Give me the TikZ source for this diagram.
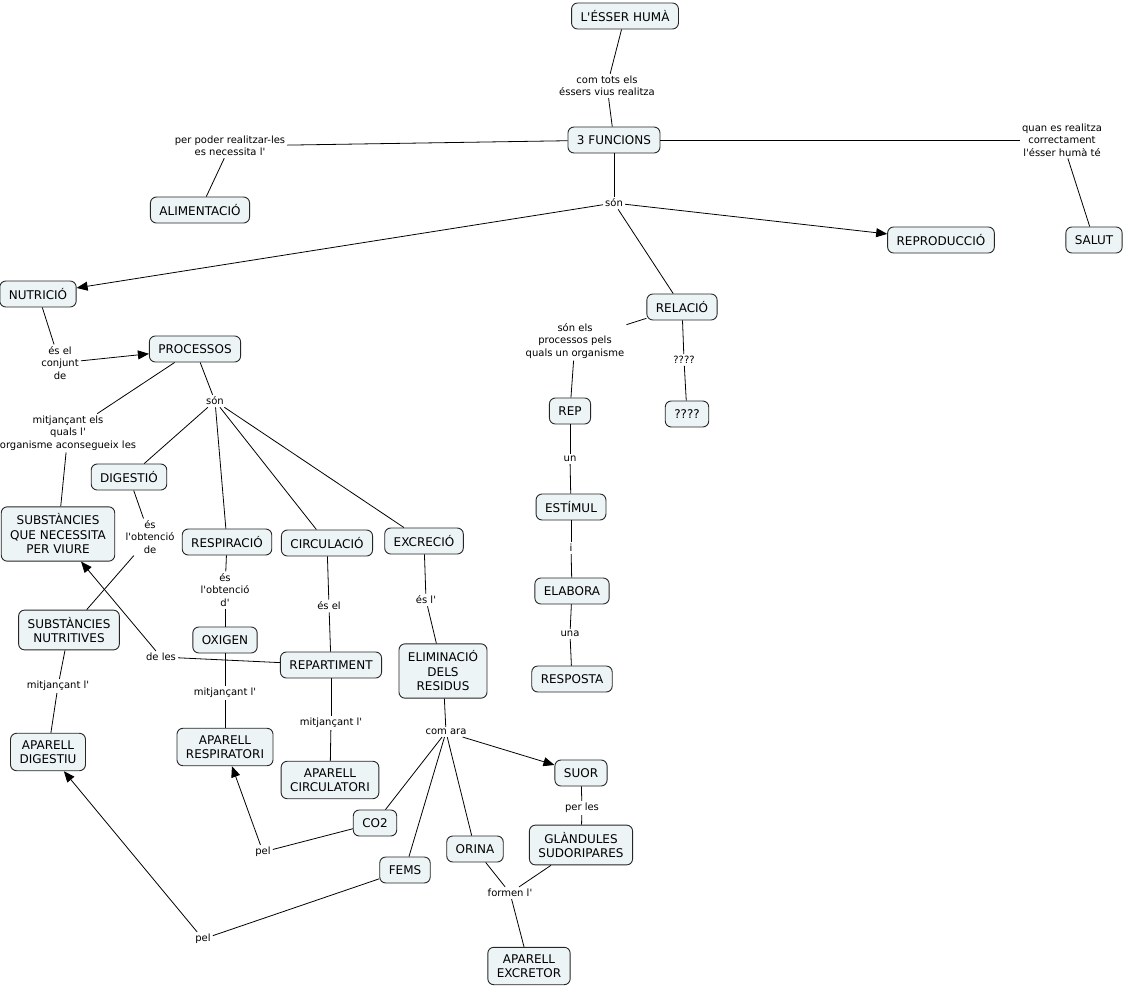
\documentclass[tikz,border=0pt]{standalone}
\usepackage{fontspec}
\setmainfont{DejaVu Sans}[Ligatures=TeXOff]
\usetikzlibrary{arrows.meta,positioning}
\definecolor{cmapfill}{RGB}{237,244,246}

\begin{document}
\begin{tikzpicture}
[x=1pt,y=-1pt,>={Triangle[length=11pt,width=9pt]},
 concept node/.style={draw=black!85,line width=0.9pt,rounded corners=6pt,fill=cmapfill,font=\fontsize{12}{14.5}\selectfont,align=center,inner xsep=9pt,inner ysep=7pt,minimum height=26pt},
 link node/.style={font=\fontsize{10}{12.3}\selectfont,align=center,inner sep=2pt}]

  \useasboundingbox (0,0) rectangle (1128,988);

  % concepts
  \node (esser) [concept node] at (625,16) {L'ÉSSER HUMÀ};
  \node (funcions) [concept node] at (614,140) {3 FUNCIONS};
  \node (alimentacio) [concept node] at (200,210) {ALIMENTACIÓ};
  \node (salut) [concept node] at (1094,240) {SALUT};
  \node (nutricio) [concept node] at (38,294) {NUTRICIÓ};
  \node (reproduccio) [concept node] at (941,240) {REPRODUCCIÓ};
  \node (relacio) [concept node] at (682,307) {RELACIÓ};
  \node (processos) [concept node] at (195,349) {PROCESSOS};
  \node (necessita) [concept node] at (58,534) {SUBSTÀNCIES\\QUE NECESSITA\\PER VIURE};
  \node (digestio) [concept node] at (129,477) {DIGESTIÓ};
  \node (respiracio) [concept node] at (227,542) {RESPIRACIÓ};
  \node (circulacio) [concept node] at (327,543) {CIRCULACIÓ};
  \node (excrecio) [concept node] at (424,541) {EXCRECIÓ};
  \node (nutritives) [concept node] at (69,630) {SUBSTÀNCIES\\NUTRITIVES};
  \node (digestiu) [concept node] at (48,752) {APARELL\\DIGESTIU};
  \node (oxigen) [concept node] at (225,640) {OXIGEN};
  \node (respiratori) [concept node] at (225,747) {APARELL\\RESPIRATORI};
  \node (repartiment) [concept node] at (331,665) {REPARTIMENT};
  \node (circulatori) [concept node] at (330,780) {APARELL\\CIRCULATORI};
  \node (eliminacio) [concept node] at (443,671) {ELIMINACIÓ\\DELS\\RESIDUS};
  \node (co2) [concept node] at (375,823) {CO2};
  \node (fems) [concept node] at (405,870) {FEMS};
  \node (orina) [concept node] at (475,849) {ORINA};
  \node (suor) [concept node] at (581,773) {SUOR};
  \node (glandules) [concept node] at (581,845) {GLÀNDULES\\SUDORIPARES};
  \node (excretor) [concept node] at (529,966) {APARELL\\EXCRETOR};
  \node (rep) [concept node] at (570,411) {REP};
  \node (estimul) [concept node] at (571,507) {ESTÍMUL};
  \node (elabora) [concept node] at (572,591) {ELABORA};
  \node (resposta) [concept node] at (572,679) {RESPOSTA};
  \node (interrog) [concept node] at (687,414) {????};

  % linking phrases
  \node (l_realitza) [link node] at (607,86) {com tots els\\éssers vius realitza};
  \node (l_necessita) [link node] at (230,146) {per poder realitzar-les\\es necessita l'};
  \node (l_correcte) [link node] at (1062,140) {quan es realitza\\correctament\\l'ésser humà té};
  \node (l_son) [link node] at (614,203) {són};
  \node (l_conjunt) [link node] at (60,363) {és el\\conjunt\\de};
  \node (l_mitjancant) [link node] at (68,433) {mitjançant els\\quals l'\\organisme aconsegueix les};
  \node (l_processos) [link node] at (215,401) {són};
  \node (l_obtencio) [link node] at (150,537) {és\\l'obtenció\\de};
  \node (l_digestiu) [link node] at (58,686) {mitjançant l'};
  \node (l_oxigen) [link node] at (225,590) {és\\l'obtenció\\d'};
  \node (l_respiratori) [link node] at (225,693) {mitjançant l'};
  \node (l_repartiment) [link node] at (329,606) {és el};
  \node (l_deles) [link node] at (161,657) {de les};
  \node (l_circulatori) [link node] at (331,723) {mitjançant l'};
  \node (l_eliminacio) [link node] at (426,600) {és l'};
  \node (l_comara) [link node] at (446,732) {com ara};
  \node (l_glandules) [link node] at (582,808) {per les};
  \node (l_formen) [link node] at (510,893) {formen l'};
  \node (l_pelco2) [link node] at (263,852) {pel};
  \node (l_pelfems) [link node] at (203,939) {pel};
  \node (l_relacio) [link node] at (575,341) {són els\\processos pels\\quals un organisme};
  \node (l_un) [link node] at (570,459) {un};
  \node (l_i) [link node] at (571,548) {i};
  \node (l_una) [link node] at (570,634) {una};
  \node (l_interrog) [link node] at (684,360) {????};

  \path [line width=0.8pt]
  (esser) edge (l_realitza) (l_realitza) edge (funcions)
  (funcions) edge (l_necessita) (l_necessita) edge (alimentacio)
  (funcions) edge (l_correcte) (l_correcte) edge (salut)
  (funcions) edge (l_son)
  (l_son) edge [->] (nutricio)
  (l_son) edge [->] (reproduccio)
  (l_son) edge (relacio)
  (nutricio) edge (l_conjunt) (l_conjunt) edge [->] (processos)
  (processos) edge (l_mitjancant) (l_mitjancant) edge (necessita)
  (processos) edge (l_processos)
  (l_processos) edge (digestio)
  (l_processos) edge (respiracio)
  (l_processos) edge (circulacio)
  (l_processos) edge (excrecio)
  (digestio) edge (l_obtencio) (l_obtencio) edge (nutritives)
  (nutritives) edge (l_digestiu) (l_digestiu) edge (digestiu)
  (respiracio) edge (l_oxigen) (l_oxigen) edge (oxigen)
  (oxigen) edge (l_respiratori) (l_respiratori) edge (respiratori)
  (circulacio) edge (l_repartiment) (l_repartiment) edge (repartiment)
  (repartiment) edge (l_deles) (l_deles) edge [->] (necessita)
  (repartiment) edge (l_circulatori) (l_circulatori) edge (circulatori)
  (excrecio) edge (l_eliminacio) (l_eliminacio) edge (eliminacio)
  (eliminacio) edge (l_comara)
  (l_comara) edge (co2)
  (l_comara) edge (fems)
  (l_comara) edge (orina)
  (l_comara) edge [->] (suor)
  (suor) edge (l_glandules) (l_glandules) edge (glandules)
  (orina) edge (l_formen) (glandules) edge (l_formen)
  (l_formen) edge (excretor)
  (co2) edge (l_pelco2) (l_pelco2) edge [->] (respiratori)
  (fems) edge (l_pelfems) (l_pelfems) edge [->] (digestiu)
  (relacio) edge (l_relacio) (l_relacio) edge (rep)
  (rep) edge (l_un) (l_un) edge (estimul)
  (estimul) edge (l_i) (l_i) edge (elabora)
  (elabora) edge (l_una) (l_una) edge (resposta)
  (relacio) edge (l_interrog) (l_interrog) edge (interrog);

\end{tikzpicture}
\end{document}
